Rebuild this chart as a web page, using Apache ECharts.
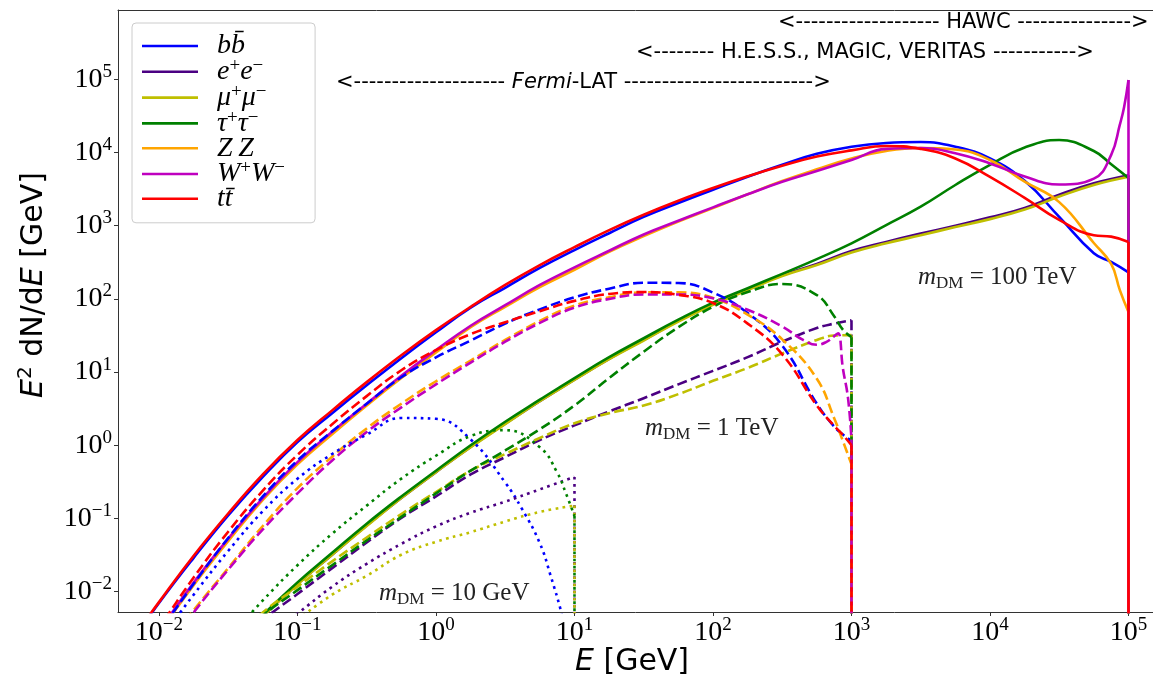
<!DOCTYPE html>
<html><head><meta charset="utf-8">
<script src="https://cdn.jsdelivr.net/npm/echarts@6/dist/echarts.min.js"></script>
<style>html,body{margin:0;padding:0;background:#fff}#c{width:1153px;height:680px}</style>
</head><body><div id="c"></div>
<script>
// ---------------- data (E [GeV], E^2 dN/dE [GeV]) ----------------
const channels = ['bb', 'ee', 'mumu', 'tautau', 'ZZ', 'WW', 'tt'];
const tickValues = [0.01, 0.1, 1, 10, 100, 1000, 10000, 100000];
const masses = [100000, 1000, 10];

// m_DM = 100 TeV (solid)
const bb_100TeV = [[0.00562,1.5e-3],[0.01,7.0e-3],[0.0178,2.9e-2],[0.0316,0.11],[0.0562,0.37],[0.1,1.11],[0.178,2.75],[0.316,6.6],[0.562,15.5],[1,35],[1.78,76],[3.16,142],[5.62,265],[10,465],[17.8,790],[31.6,1320],[56.2,2040],[100,3100],[178,4670],[316,6800],[562,9600],[1000,12000],[1780,13500],[3160,13900],[5620,12000],[10000,8300],[17800,4100],[31600,1320],[56200,420],[75000,320],[100000,230]];
const ee_100TeV = [[0.0316,1.5e-3],[0.0562,4.6e-3],[0.1,1.27e-2],[0.178,3.2e-2],[0.316,8.0e-2],[0.562,0.19],[1,0.43],[1.78,0.95],[3.16,1.97],[5.62,4.0],[10,7.9],[17.8,15.2],[31.6,27.5],[56.2,50],[100,85],[178,135],[316,210],[562,300],[1000,450],[1780,600],[3160,780],[5620,1000],[10000,1300],[17800,1750],[31600,2650],[56200,3800],[100000,4900]];
const mumu_100TeV = [[0.0316,1.5e-3],[0.0562,4.6e-3],[0.1,1.26e-2],[0.178,3.2e-2],[0.316,7.9e-2],[0.562,0.19],[1,0.43],[1.78,0.94],[3.16,1.95],[5.62,4.0],[10,7.8],[17.8,15],[31.6,27],[56.2,49],[100,83],[178,132],[316,205],[562,290],[1000,430],[1780,575],[3160,740],[5620,960],[10000,1230],[17800,1660],[31600,2500],[56200,3600],[100000,4660]];
const tautau_100TeV = [[0.0316,1.6e-3],[0.0562,4.8e-3],[0.1,1.34e-2],[0.178,3.4e-2],[0.316,8.5e-2],[0.562,0.20],[1,0.45],[1.78,1.0],[3.16,2.1],[5.62,4.2],[10,8.3],[17.8,16],[31.6,29],[56.2,52],[100,89],[178,140],[316,220],[562,350],[1000,575],[1780,1020],[3160,1820],[5620,3600],[10000,6800],[17800,11700],[31600,14800],[56200,10500],[75000,6900],[100000,4470]];
const ZZ_100TeV = [[0.00562,5.9e-4],[0.01,2.75e-3],[0.0178,1.23e-2],[0.0316,4.9e-2],[0.0562,0.18],[0.1,0.55],[0.178,1.42],[0.316,3.5],[0.562,8.3],[1,18.5],[1.78,41],[3.16,78],[5.62,145],[10,250],[17.8,440],[31.6,720],[56.2,1140],[100,1740],[178,2690],[316,4070],[562,5900],[1000,8300],[1780,10500],[3160,11500],[5620,11000],[10000,7900],[17800,4000],[31600,2100],[56200,580],[75000,300],[86600,132],[100000,66]];
const WW_100TeV = [[0.00562,6.3e-4],[0.01,2.9e-3],[0.0178,1.33e-2],[0.0316,5.3e-2],[0.0562,0.19],[0.1,0.59],[0.178,1.53],[0.316,3.7],[0.562,8.9],[1,20],[1.78,43],[3.16,82],[5.62,155],[10,270],[17.8,455],[31.6,760],[56.2,1170],[100,1780],[178,2690],[316,3980],[562,5600],[1000,7900],[1780,11200],[3160,11500],[5620,9800],[10000,7100],[17800,4700],[31600,3650],[56200,4400],[75000,9300],[86600,24000],[93000,42000],[100000,98000]];
const tt_100TeV = [[0.00562,1.6e-3],[0.01,7.2e-3],[0.0178,3.1e-2],[0.0316,0.117],[0.0562,0.40],[0.1,1.18],[0.178,3.0],[0.316,7.3],[0.562,17],[1,37.5],[1.78,78],[3.16,155],[5.62,290],[10,510],[17.8,870],[31.6,1410],[56.2,2190],[100,3270],[178,4730],[316,6600],[562,8800],[1000,10700],[1780,12300],[3160,11200],[5620,8300],[10000,4650],[17800,2400],[31600,1200],[56200,740],[75000,710],[100000,600]];

// m_DM = 1 TeV (dashed)
const bb_1TeV = [[0.00562,5.6e-4],[0.01,2.75e-3],[0.0178,1.28e-2],[0.0316,5.4e-2],[0.0562,0.20],[0.1,0.62],[0.178,1.55],[0.316,3.7],[0.562,8.5],[1,15.9],[1.78,27],[3.16,46],[5.62,72],[10,105],[17.8,138],[31.6,166],[56.2,165],[100,122],[178,64],[316,23],[562,3.7],[750,1.8],[866,1.4],[1000,1.15]];
const ee_1TeV = [[0.0316,1.6e-3],[0.0562,4.1e-3],[0.1,9.3e-3],[0.178,2.1e-2],[0.316,4.7e-2],[0.562,0.102],[1,0.20],[1.78,0.40],[3.16,0.69],[5.62,1.18],[10,1.87],[17.8,2.9],[31.6,4.4],[56.2,6.8],[100,10.4],[178,16],[316,26],[562,40],[750,46],[1000,51]];
const mumu_1TeV = [[0.0316,1.9e-3],[0.0562,5.2e-3],[0.1,1.17e-2],[0.178,2.6e-2],[0.316,5.5e-2],[0.562,0.115],[1,0.23],[1.78,0.45],[3.16,0.76],[5.62,1.26],[10,2.0],[17.8,2.75],[31.6,3.5],[56.2,5.0],[100,7.6],[178,11.4],[316,18],[562,27.5],[750,31.6],[1000,32]];
const tautau_1TeV = [[0.0316,1.7e-3],[0.0562,4.7e-3],[0.1,1.05e-2],[0.178,2.3e-2],[0.316,5.0e-2],[0.562,0.105],[1,0.22],[1.78,0.45],[3.16,0.85],[5.62,1.66],[10,3.5],[17.8,8.3],[31.6,19],[56.2,41],[100,78],[178,124],[316,160],[562,113],[750,58],[866,38],[1000,30]];
const ZZ_1TeV = [[0.00562,3.4e-4],[0.01,1.4e-3],[0.0178,5.6e-3],[0.0316,2.1e-2],[0.0562,7.9e-2],[0.1,0.26],[0.178,0.70],[0.316,1.7],[0.562,3.7],[1,7.5],[1.78,14.4],[3.16,27.5],[5.62,50],[10,81],[17.8,105],[31.6,123],[56.2,123],[100,103],[178,61],[316,28],[562,8.1],[750,2.35],[866,1.15],[1000,0.55]];
const WW_1TeV = [[0.00562,3.1e-4],[0.01,1.2e-3],[0.0178,5.2e-3],[0.0316,2.0e-2],[0.0562,7.1e-2],[0.1,0.22],[0.178,0.62],[0.316,1.52],[0.562,3.3],[1,6.8],[1.78,13.5],[3.16,26],[5.62,47],[10,76],[17.8,100],[31.6,115],[56.2,115],[100,102],[178,71],[316,42],[447,27.5],[562,23.6],[655,25.7],[750,31],[800,34],[866,11.4],[944,4.4],[1000,1.2]];
const tt_1TeV = [[0.00562,6.6e-4],[0.01,3.2e-3],[0.0178,1.56e-2],[0.0316,6.6e-2],[0.0562,0.24],[0.1,0.74],[0.178,1.94],[0.316,4.7],[0.562,10.6],[1,20],[1.78,33],[3.16,48],[5.62,68],[10,94],[17.8,117],[31.6,124],[56.2,114],[100,88],[178,46],[316,17.5],[562,3.5],[750,1.84],[866,1.39],[1000,1.0]];

// m_DM = 10 GeV (dotted)
const bb_10GeV = [[0.01,2.1e-3],[0.0178,9.1e-3],[0.0316,3.6e-2],[0.0562,0.126],[0.1,0.35],[0.178,0.76],[0.316,1.40],[0.562,2.36],[1,2.3],[1.78,1.2],[3.16,0.31],[4.18,0.135],[5.62,4.6e-2],[6.76,1.6e-2],[8.13,4.8e-3],[9.29,1.6e-3]];
const ee_10GeV = [[0.0562,2.1e-3],[0.1,5.0e-3],[0.178,1.17e-2],[0.316,2.4e-2],[0.562,4.5e-2],[1,7.8e-2],[1.78,0.12],[3.16,0.17],[5.62,0.25],[10,0.37]];
const mumu_10GeV = [[0.1,4.1e-3],[0.178,9.1e-3],[0.316,1.65e-2],[0.562,3.2e-2],[1,4.8e-2],[1.78,6.5e-2],[3.16,9.1e-2],[5.62,0.123],[10,0.15]];
const tautau_10GeV = [[0.0316,2.3e-3],[0.0562,7.6e-3],[0.1,2.3e-2],[0.178,6.2e-2],[0.316,0.15],[0.562,0.35],[1,0.72],[1.78,1.34],[3.16,1.61],[5.62,0.94],[7.48,0.43],[8.68,0.22],[10,0.108]];

// ---------------- styling ----------------
const colors = {bb:'#0000ff', ee:'#4b0082', mumu:'#bfbf00', tautau:'#008000', ZZ:'#ffa500', WW:'#bf00bf', tt:'#ff0000'};
const legendLabels = {
  bb: '{g| }{i|b}{i|b\u0304}',
  ee: '{g| }{i|e}{s|+}{i|e}{s|\u2212}',
  mumu: '{g| }{i|\u03bc}{s|+}{i|\u03bc}{s|\u2212}',
  tautau: '{g| }{i|\u03c4}{s|+}{i|\u03c4}{s|\u2212}',
  ZZ: '{g| }{i|Z\u2009Z}',
  WW: '{g| }{i|W}{s|+}{i|W}{s|\u2212}',
  tt: '{g| }{i|t}{i|t\u0304}'
};
const groups = [
  {mass: masses[0], dash: 'solid', curves: {bb: bb_100TeV, ee: ee_100TeV, mumu: mumu_100TeV, tautau: tautau_100TeV, ZZ: ZZ_100TeV, WW: WW_100TeV, tt: tt_100TeV}},
  {mass: masses[1], dash: [9.9, 4.3], curves: {bb: bb_1TeV, ee: ee_1TeV, mumu: mumu_1TeV, tautau: tautau_1TeV, ZZ: ZZ_1TeV, WW: WW_1TeV, tt: tt_1TeV}},
  {mass: masses[2], dash: [2.7, 4.4], curves: {bb: bb_10GeV, ee: ee_10GeV, mumu: mumu_10GeV, tautau: tautau_10GeV}}
];

const series = [];
groups.forEach(function (g, gi) {
  channels.forEach(function (ch) {
    const d = g.curves[ch];
    if (!d) return;
    const name = gi === 0 ? ch : ch + '_' + g.mass;
    const ls = {color: colors[ch], width: 2.6, type: g.dash, cap: 'butt', join: 'round'};
    series.push({type: 'line', name: name, data: d, smooth: 0.45, symbol: 'none', showSymbol: false,
      lineStyle: ls, itemStyle: {color: colors[ch]}, silent: true});
    const last = d[d.length - 1];
    if (last[0] >= g.mass * 0.999) {
      series.push({type: 'line', name: name + '_end', data: [[g.mass, last[1]], [g.mass, 1e-4]],
        symbol: 'none', showSymbol: false, lineStyle: ls, itemStyle: {color: colors[ch]}, silent: true});
    }
  });
});

function powLabel(v) {
  const lg = Math.log10(v);
  const e = Math.round(lg);
  if (Math.abs(lg - e) > 1e-6) return '';
  return '{b|10}{s|' + (e < 0 ? '\u2212' + (-e) : String(e)) + '}';
}
const serif = "'Liberation Serif', 'DejaVu Serif', serif";
const sans = "'DejaVu Sans', sans-serif";
const tickRich = {
  b: {fontFamily: serif, fontSize: 28, lineHeight: 34, color: '#000'},
  s: {fontFamily: serif, fontSize: 19, lineHeight: 14, verticalAlign: 'top', color: '#000'}
};
const spine = '#333';
const mRich = {
  m: {fontFamily: serif, fontStyle: 'italic', fontSize: 25, lineHeight: 30, fill: '#222', color: '#222'},
  d: {fontFamily: serif, fontSize: 17, lineHeight: 18, verticalAlign: 'bottom', fill: '#222', color: '#222'},
  r: {fontFamily: serif, fontSize: 25, lineHeight: 30, fill: '#222', color: '#222'}
};

const option = {
  animation: false,
  backgroundColor: '#fff',
  grid: {left: 118, right: 0, top: 10, bottom: 68, containLabel: false},
  xAxis: [{
    type: 'log', logBase: 10, min: 5.06e-3, max: 1.503e5,
    axisLine: {show: true, onZero: false, lineStyle: {color: spine, width: 1}},
    axisTick: {show: true, length: 4, inside: false, customValues: tickValues, lineStyle: {color: spine, width: 1}},
    axisLabel: {show: true, margin: 4, customValues: tickValues, formatter: powLabel, rich: tickRich},
    splitLine: {show: false}, minorTick: {show: false}
  }, {
    type: 'log', logBase: 10, min: 5.06e-3, max: 1.503e5, position: 'top',
    axisLine: {show: true, onZero: false, lineStyle: {color: spine, width: 1}},
    axisTick: {show: false}, axisLabel: {show: false}, splitLine: {show: false}
  }],
  yAxis: {
    type: 'log', logBase: 10, min: 5.28e-3, max: 8.85e5,
    axisLine: {show: true, onZero: false, lineStyle: {color: spine, width: 1}},
    axisTick: {show: true, length: 4, inside: false, customValues: tickValues, lineStyle: {color: spine, width: 1}},
    axisLabel: {show: true, margin: 6, customValues: tickValues, formatter: powLabel, rich: tickRich},
    splitLine: {show: false}, minorTick: {show: false}
  },
  legend: {
    data: channels, left: 132, top: 23, orient: 'vertical', selectedMode: false,
    icon: 'rect', itemWidth: 56, itemHeight: 2.6, itemGap: -3.2,
    padding: [9, 30, 10, 10],
    backgroundColor: 'rgba(255,255,255,0.85)', borderColor: '#cccccc', borderWidth: 1, borderRadius: 4,
    formatter: function (n) { return legendLabels[n]; },
    textStyle: {
      color: '#000',
      rich: {
        g: {width: 14, fontSize: 10, lineHeight: 30},
        i: {fontFamily: serif, fontStyle: 'italic', fontSize: 28, lineHeight: 30, color: '#000'},
        s: {fontFamily: serif, fontSize: 19, lineHeight: 13, verticalAlign: 'top', color: '#000'}
      }
    }
  },
  graphic: [
    {type: 'text', x: 34, y: 285, rotation: Math.PI / 2, silent: true,
      style: {text: '{i|E}{s|2}{n| dN/d}{i|E}{n| [GeV]}', align: 'center', verticalAlign: 'middle',
        rich: {
          i: {fontFamily: sans, fontStyle: 'italic', fontSize: 30, lineHeight: 36, fill: '#000', color: '#000'},
          n: {fontFamily: sans, fontSize: 30, lineHeight: 36, fill: '#000', color: '#000'},
          s: {fontFamily: sans, fontSize: 20, lineHeight: 20, verticalAlign: 'top', fill: '#000', color: '#000'}
        }}},
    {type: 'text', x: 632, y: 662, silent: true,
      style: {text: '{i|E}{n| [GeV]}', align: 'center', verticalAlign: 'middle',
        rich: {
          i: {fontFamily: sans, fontStyle: 'italic', fontSize: 30, lineHeight: 36, fill: '#000', color: '#000'},
          n: {fontFamily: sans, fontSize: 30, lineHeight: 36, fill: '#000', color: '#000'}
        }}},
    {type: 'text', x: 778, y: 23, silent: true,
      style: {text: '<------------------- HAWC --------------->', align: 'left', verticalAlign: 'middle',
        font: '21px ' + sans, fill: '#000'}},
    {type: 'text', x: 636, y: 53, silent: true,
      style: {text: '<-------- H.E.S.S., MAGIC, VERITAS ----------->', align: 'left', verticalAlign: 'middle',
        font: '21px ' + sans, fill: '#000'}},
    {type: 'text', x: 336, y: 83, silent: true,
      style: {text: '{n|<-------------------- }{i|Fermi}{n|-LAT ------------------------->}', align: 'left', verticalAlign: 'middle',
        rich: {
          n: {fontFamily: sans, fontSize: 21, fill: '#000', color: '#000'},
          i: {fontFamily: sans, fontStyle: 'italic', fontSize: 21, fill: '#000', color: '#000'}
        }}},
    {type: 'text', x: 918, y: 277, silent: true,
      style: {text: '{m|m}{d|DM}{r| = 100 TeV}', align: 'left', verticalAlign: 'middle', rich: mRich}},
    {type: 'text', x: 645, y: 428, silent: true,
      style: {text: '{m|m}{d|DM}{r| = 1 TeV}', align: 'left', verticalAlign: 'middle', rich: mRich}},
    {type: 'text', x: 379, y: 593, silent: true,
      style: {text: '{m|m}{d|DM}{r| = 10 GeV}', align: 'left', verticalAlign: 'middle', rich: mRich}}
  ],
  series: series
};

const chart = echarts.init(document.getElementById('c'), null, {renderer: 'canvas'});
chart.setOption(option);
</script>
</body></html>
